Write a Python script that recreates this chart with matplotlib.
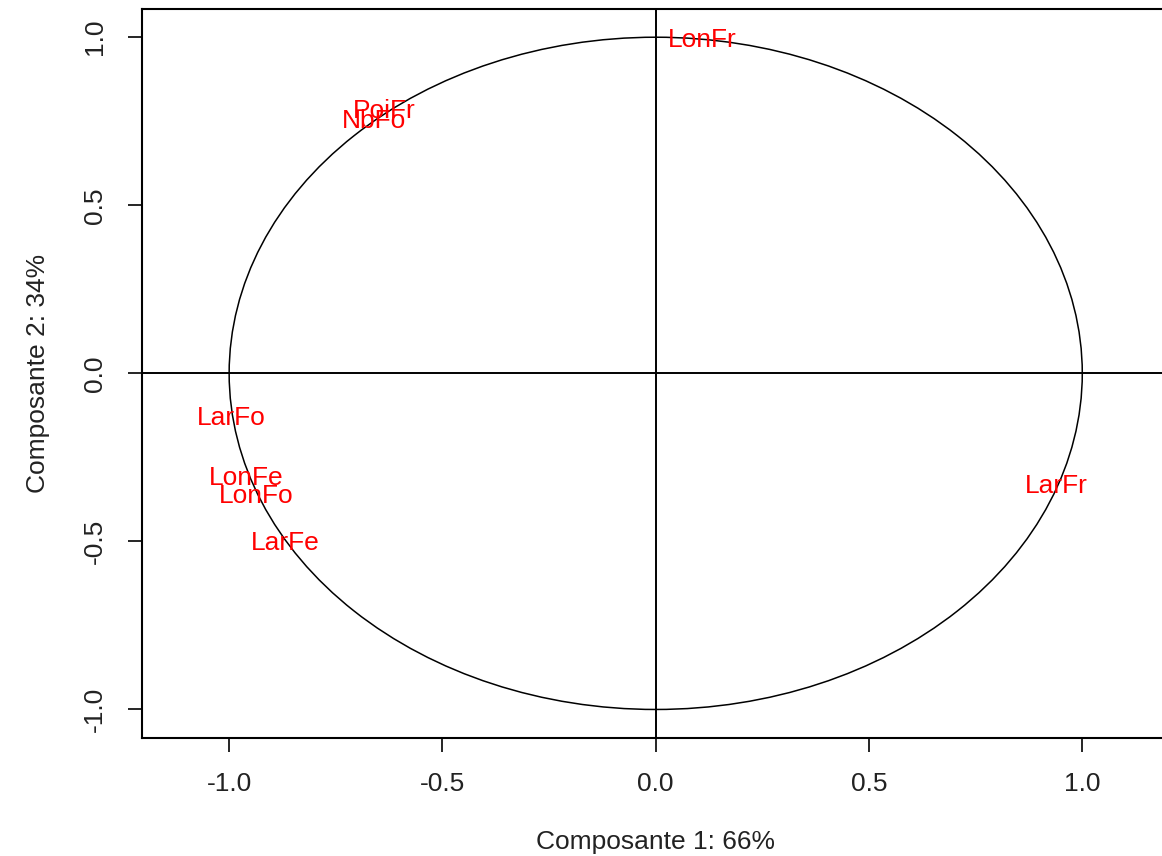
import matplotlib
matplotlib.use("Agg")
import matplotlib.pyplot as plt
from matplotlib.patches import Circle

plt.rcParams['font.family'] = ['Liberation Sans', 'DejaVu Sans']

# variable coordinates on the first two components
variables = ['LonFr', 'PoiFr', 'NbFo', 'LarFo', 'LonFe', 'LonFo', 'LarFe', 'LarFr']
comp1 = [0.108, -0.636, -0.660, -0.996, -0.960, -0.937, -0.869, 0.939]
comp2 = [0.991, 0.780, 0.750, -0.134, -0.310, -0.366, -0.506, -0.336]

ticks = [-1.0, -0.5, 0.0, 0.5, 1.0]
tick_labels = ['-1.0', '-0.5', '0.0', '0.5', '1.0']

fig = plt.figure(figsize=(11.62, 8.56), dpi=100)
# right edge of the box sits just outside the picture, as in the original
ax = fig.add_axes([0.12195, 0.1382, 0.8847, 0.8513])

ax.set_xlim(-1.205, 1.205)
ax.set_ylim(-1.084, 1.084)

ax.add_patch(Circle((0, 0), 1, fill=False, edgecolor='black', linewidth=1.1))
ax.axhline(0, color='black', linewidth=1.4)
ax.axvline(0, color='black', linewidth=1.4)

for name, x, y in zip(variables, comp1, comp2):
    ax.text(x, y, name, color='#ff0000', fontsize=19, ha='center', va='center')

ax.set_xticks(ticks)
ax.set_xticklabels(tick_labels)
ax.set_yticks(ticks)
ax.set_yticklabels(tick_labels, rotation=90, va='center')
ax.tick_params(axis='both', length=10, width=1.2, pad=15, labelsize=19,
               labelcolor='#222222')

for s in ax.spines.values():
    s.set_linewidth(1.5)

ax.set_xlabel('Composante 1: 66%', fontsize=19, color='#222222', labelpad=24)
ax.set_ylabel('Composante 2: 34%', fontsize=19, color='#222222', labelpad=24)

fig.savefig('out.png', dpi=100, facecolor='white')
